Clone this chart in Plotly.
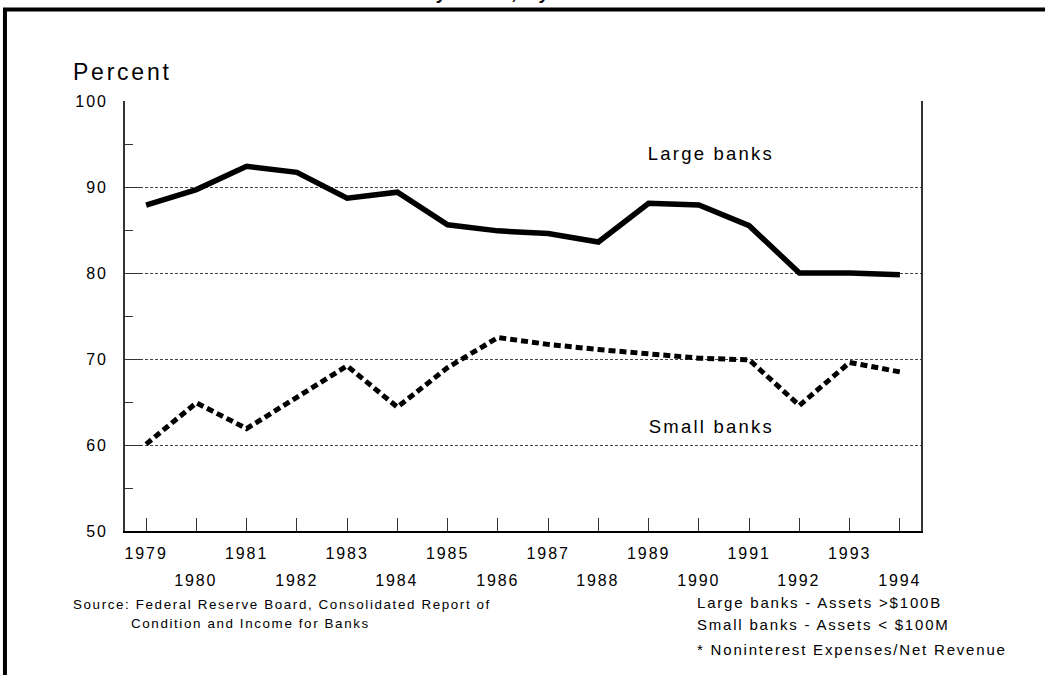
import plotly.graph_objects as go

# data
years = list(range(1979, 1995))
large_banks = [87.9, 89.7, 92.4, 91.7, 88.7, 89.4, 85.6, 84.9, 84.6, 83.6, 88.1, 87.9, 85.5, 80.0, 80.0, 79.8]
small_banks = [60.1, 64.9, 61.9, 65.5, 69.2, 64.4, 69.0, 72.5, 71.7, 71.1, 70.6, 70.1, 69.9, 64.6, 69.6, 68.5]
y_ticks = [50, 60, 70, 80, 90, 100]

FONT = "Liberation Sans, Arial, sans-serif"

fig = go.Figure()

fig.add_trace(go.Scatter(x=years, y=large_banks, mode="lines",
                         line=dict(color="black", width=5.5), name="Large banks"))
fig.add_trace(go.Scatter(x=years, y=small_banks, mode="lines",
                         line=dict(color="black", width=5, dash="7px,4px"), name="Small banks"))

# odd years on the first row, even years on a second row below
odd_text = [str(y) if y % 2 else "" for y in years]
annotations = []
for y in years:
    if y % 2 == 0:
        annotations.append(dict(x=y, y=-0.114, xref="x", yref="paper", text=str(y),
                                showarrow=False, yanchor="middle", font=dict(size=16)))

def note(text, x, y, size=13.4, xanchor="left", yanchor="middle"):
    annotations.append(dict(x=x, y=y, xref="paper", yref="paper", text=text,
                            showarrow=False, xanchor=xanchor, yanchor=yanchor,
                            align="left" if xanchor == "left" else "center",
                            font=dict(size=size)))

# bold italic title, only its descenders show at the top edge
note("<b><i>Efficiency Ratio, by Year 1979-1994</i></b>", 0.51, 1.2233, size=18,
     xanchor="center", yanchor="bottom")
note("Percent", -0.068, 1.0674, size=23)
note("Large banks", 0.7362, 0.879, size=18.5, xanchor="center")
note("Small banks", 0.7374, 0.2419, size=18.5, xanchor="center")
note("Source: Federal Reserve Board, Consolidated Report of", -0.068, -0.1698)
note("Condition and Income for Banks", 0.0045, -0.214)
note("Large banks - Assets >$100B", 0.716, -0.1674, size=15)
note("Small banks - Assets < $100M", 0.716, -0.2163, size=15)
note("* Noninterest Expenses/Net Revenue", 0.716, -0.2767, size=15)

fig.update_layout(
    width=1053, height=675,
    margin=dict(l=125, r=132, t=101, b=144),
    paper_bgcolor="white", plot_bgcolor="white",
    font=dict(family=FONT, color="black", size=16),
    showlegend=False,
    annotations=annotations,
    shapes=[
        dict(type="line", xref="paper", yref="paper", x0=-0.1533, x1=1.1558, y0=1.2128, y1=1.2128,
             line=dict(color="black", width=4)),
        dict(type="line", xref="paper", yref="paper", x0=-0.1508, x1=-0.1508, y0=1.2128, y1=-0.36,
             line=dict(color="black", width=4)),
    ],
)

fig.update_xaxes(
    range=[1978.58, 1994.42], tickvals=years, ticktext=odd_text,
    ticks="inside", ticklen=13, tickwidth=1, tickcolor="#333",
    showline=True, linecolor="black", linewidth=2, mirror=False,
    showgrid=False, zeroline=False, ticklabelstandoff=7,
    tickfont=dict(size=16),
)
fig.update_yaxes(
    range=[50, 100], tickvals=y_ticks,
    ticks="inside", ticklen=16, tickwidth=1, tickcolor="#333",
    minor=dict(ticks="inside", ticklen=8, tickwidth=1, tickcolor="#333", dtick=5, tick0=0, showgrid=False),
    showline=True, linecolor="#333", linewidth=2, mirror=True,
    showgrid=True, gridcolor="#444", gridwidth=1, griddash="3px,2px",
    zeroline=False, ticklabelstandoff=12,
    tickfont=dict(size=16),
)

# no page margin, and the wide letter spacing of the original
post = """
var s = document.createElement('style');
s.textContent = 'svg text { letter-spacing: 0.12em; }';
document.head.appendChild(s);
document.body.style.margin = '0';
"""

fig.write_html("out.html", post_script=post, config={"displayModeBar": False})
